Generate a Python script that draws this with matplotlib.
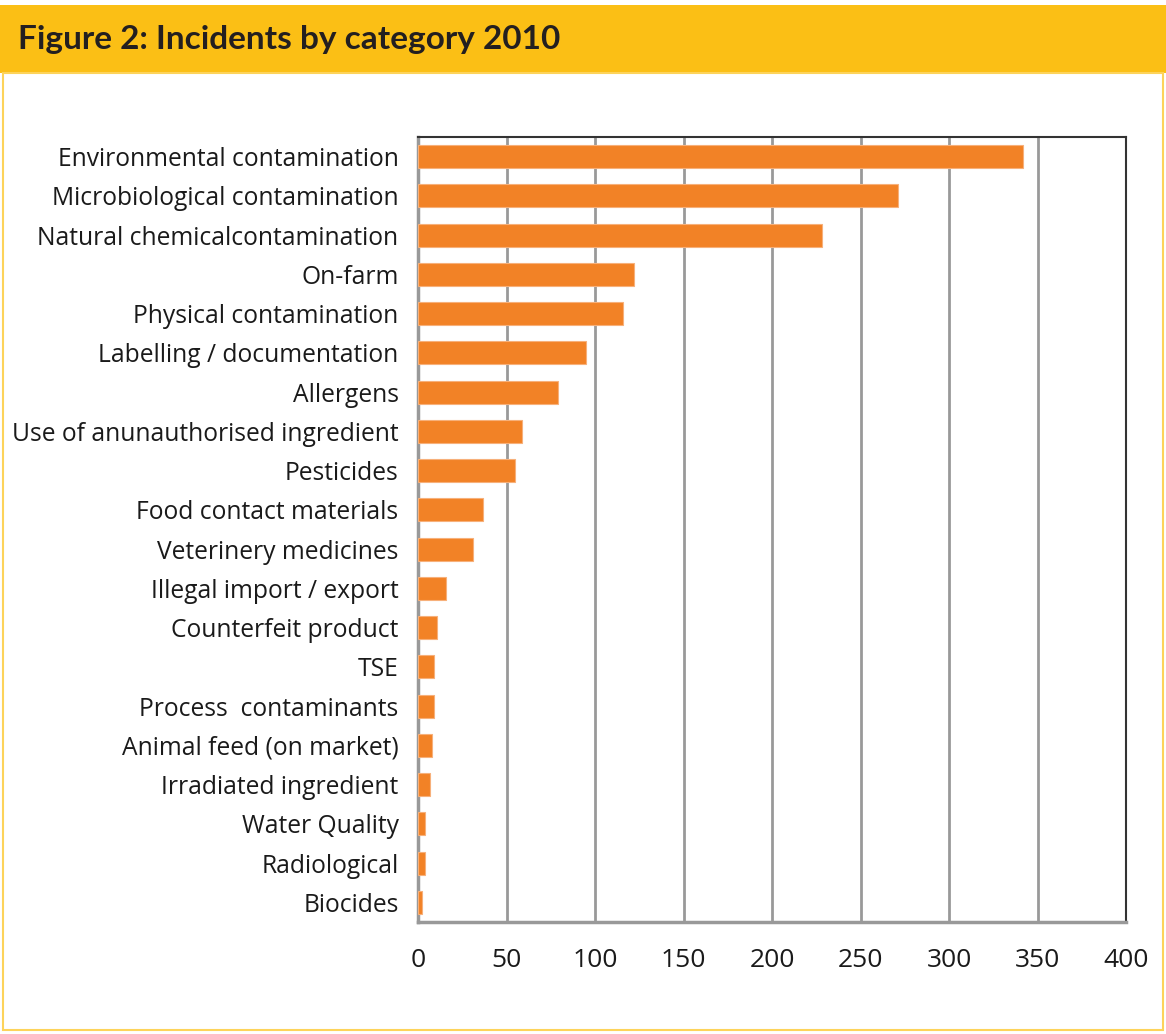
import matplotlib.pyplot as plt
from matplotlib.patches import Rectangle

categories = [
    'Environmental contamination',
    'Microbiological contamination',
    'Natural chemicalcontamination',
    'On-farm',
    'Physical contamination',
    'Labelling / documentation',
    'Allergens',
    'Use of anunauthorised ingredient',
    'Pesticides',
    'Food contact materials',
    'Veterinery medicines',
    'Illegal import / export',
    'Counterfeit product',
    'TSE',
    'Process  contaminants',
    'Animal feed (on market)',
    'Irradiated ingredient',
    'Water Quality',
    'Radiological',
    'Biocides',
]
incidents = [342, 271, 228, 122, 116, 95, 79, 59, 55, 37, 31, 16, 11, 9, 9, 8, 7, 4, 4, 2]
x_ticks = [0, 50, 100, 150, 200, 250, 300, 350, 400]

W, H = 1166, 1034
fig = plt.figure(figsize=(W / 100, H / 100), dpi=100)

# yellow header band and panel border
fig.patches.append(Rectangle((0, 1 - 73 / H), 1, 68 / H, transform=fig.transFigure,
                             facecolor='#FBBF15', edgecolor='none', zorder=0))
fig.patches.append(Rectangle((3 / W, 4 / H), 1 - 6 / W, 1 - 77 / H, transform=fig.transFigure,
                             facecolor='none', edgecolor='#FDD35A', linewidth=1.5, zorder=0))
fig.text(18 / W, 1 - 40 / H, 'Figure 2: Incidents by category 2010', fontsize=24,
         fontweight='bold', family='Lato', color='#231F20', va='center', ha='left')

ax = fig.add_axes([418 / W, 1 - 922 / H, (1126 - 418) / W, (922 - 137) / H])
y = list(range(len(categories)))
ax.barh(y, incidents, height=0.59, color='#F28226', edgecolor='#F7B07A', linewidth=0.8, zorder=3)

ax.set_xlim(0, 400)
ax.set_ylim(len(categories) - 0.5, -0.5)
ax.set_xticks(x_ticks)
ax.set_xticklabels([str(t) for t in x_ticks], fontsize=19, family='Open Sans', color='#1a1a1a')
ax.set_yticks(y)
ax.set_yticklabels(categories, fontsize=17.7, family='Open Sans', color='#1a1a1a')
ax.tick_params(axis='both', length=0)
ax.tick_params(axis='x', pad=19)
ax.tick_params(axis='y', pad=14)

ax.grid(axis='x', color='#999999', linewidth=2, zorder=1)
for side in ['left', 'bottom']:
    ax.spines[side].set_color('#999999')
    ax.spines[side].set_linewidth(2.5)
for side in ['top', 'right']:
    ax.spines[side].set_color('#333333')
    ax.spines[side].set_linewidth(1.5)

fig.savefig('out.png', dpi=100)
